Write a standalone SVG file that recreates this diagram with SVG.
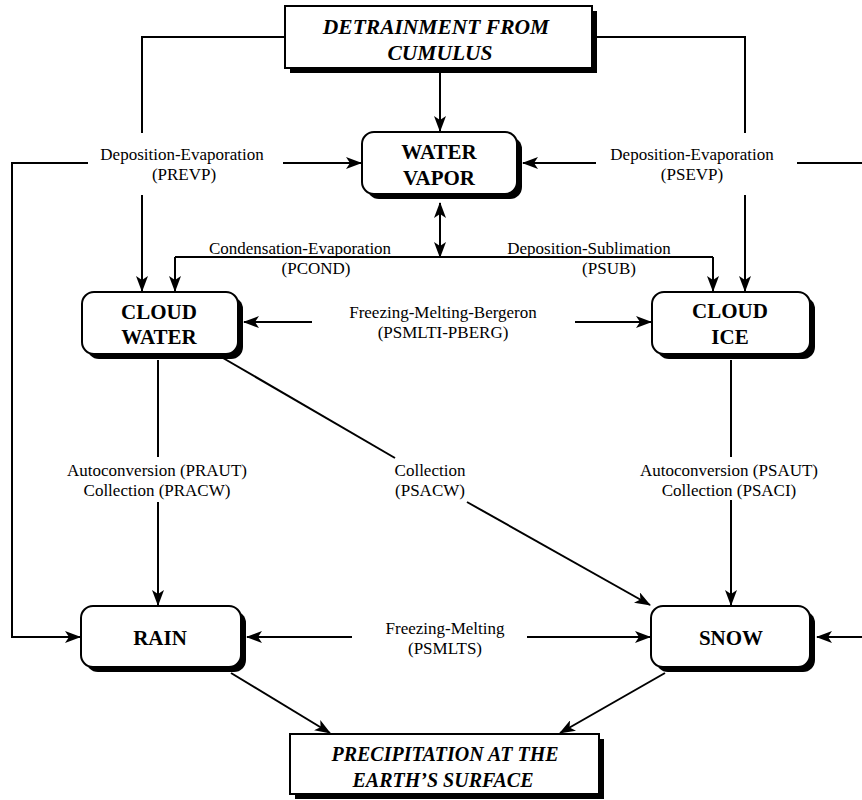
<svg xmlns="http://www.w3.org/2000/svg" width="862" height="800" viewBox="0 0 862 800">
<style>
.bg{fill:#fff}
.box{fill:#fff;stroke:#000;stroke-width:2}
.sh{fill:#000}
.c{fill:none;stroke:#000;stroke-width:2}
.nt{font-family:"Liberation Serif",serif;font-weight:bold;font-size:21px;text-anchor:middle;fill:#000}
.it{font-family:"Liberation Serif",serif;font-weight:bold;font-style:italic;font-size:20px;text-anchor:middle;fill:#000}
.it2{font-size:21.5px}
.lb{font-family:"Liberation Serif",serif;font-size:17px;text-anchor:middle;fill:#000}
</style>
<defs>
<marker id="ah" viewBox="0 0 16 12" refX="15" refY="6" markerWidth="16" markerHeight="12" markerUnits="userSpaceOnUse" orient="auto-start-reverse">
<path d="M0,0 L16,6 L0,12 L4,6 z" fill="#000"/>
</marker>
</defs>
<rect class="bg" x="0" y="0" width="862" height="800"/>

<g id="connectors">
<path class="c" d="M440,72 V131" marker-end="url(#ah)"/>
<path class="c" d="M285,37 H142 V133"/>
<path class="c" d="M142,195 V291" marker-end="url(#ah)"/>
<path class="c" d="M592,37 H745 V133"/>
<path class="c" d="M745,195 V291" marker-end="url(#ah)"/>
<path class="c" d="M283,163 H361" marker-end="url(#ah)"/>
<path class="c" d="M88,163 H12 V637 H80" marker-end="url(#ah)"/>
<path class="c" d="M596,163 H523" marker-end="url(#ah)"/>
<path class="c" d="M797,163 H862"/>
<path class="c" d="M862,637 H817" marker-end="url(#ah)"/>
<path class="c" d="M440,203 V257" marker-start="url(#ah)" marker-end="url(#ah)"/>
<path class="c" d="M175,257 H713"/>
<path class="c" d="M175,257 V291" marker-end="url(#ah)"/>
<path class="c" d="M713,257 V291" marker-end="url(#ah)"/>
<path class="c" d="M312,322 H244" marker-end="url(#ah)"/>
<path class="c" d="M575,322 H651" marker-end="url(#ah)"/>
<path class="c" d="M158,360 V457"/>
<path class="c" d="M158,502 V605" marker-end="url(#ah)"/>
<path class="c" d="M223,358 L395,458"/>
<path class="c" d="M467,502 L650,605" marker-end="url(#ah)"/>
<path class="c" d="M731,360 V457"/>
<path class="c" d="M731,500 V605" marker-end="url(#ah)"/>
<path class="c" d="M352,637 H247" marker-end="url(#ah)"/>
<path class="c" d="M527,637 H650" marker-end="url(#ah)"/>
<path class="c" d="M231,673 L330,733" marker-end="url(#ah)"/>
<path class="c" d="M665,673 L560,733" marker-end="url(#ah)"/>
</g>

<g id="labels">
<text class="lb" x="182" y="160">Deposition-Evaporation</text>
<text class="lb" x="184" y="180">(PREVP)</text>
<text class="lb" x="692" y="160">Deposition-Evaporation</text>
<text class="lb" x="692" y="180">(PSEVP)</text>
<text class="lb" x="300" y="254">Condensation-Evaporation</text>
<text class="lb" x="316" y="274">(PCOND)</text>
<text class="lb" x="589" y="254">Deposition-Sublimation</text>
<text class="lb" x="609" y="274">(PSUB)</text>
<text class="lb" x="443" y="318">Freezing-Melting-Bergeron</text>
<text class="lb" x="443" y="338">(PSMLTI-PBERG)</text>
<text class="lb" x="157" y="476">Autoconversion (PRAUT)</text>
<text class="lb" x="157" y="496">Collection (PRACW)</text>
<text class="lb" x="430" y="476">Collection</text>
<text class="lb" x="430" y="496">(PSACW)</text>
<text class="lb" x="729" y="476">Autoconversion (PSAUT)</text>
<text class="lb" x="729" y="496">Collection (PSACI)</text>
<text class="lb" x="445" y="634">Freezing-Melting</text>
<text class="lb" x="445" y="654">(PSMLTS)</text>
</g>

<g id="detrainment">
<rect class="sh" x="290" y="11" width="307" height="62"/>
<rect class="box" x="285" y="6" width="307" height="62"/>
<text class="it it2" x="436" y="34">DETRAINMENT FROM</text>
<text class="it it2" x="440" y="60">CUMULUS</text>
</g>

<g id="water-vapor">
<rect class="sh" x="367" y="137" width="155" height="62" rx="12"/>
<rect class="box" x="362" y="132" width="155" height="62" rx="12"/>
<text class="nt" x="439" y="159">WATER</text>
<text class="nt" x="439" y="185">VAPOR</text>
</g>

<g id="cloud-water">
<rect class="sh" x="87" y="297" width="156" height="62" rx="12"/>
<rect class="box" x="82" y="292" width="156" height="62" rx="12"/>
<text class="nt" x="159" y="319">CLOUD</text>
<text class="nt" x="159" y="344">WATER</text>
</g>

<g id="cloud-ice">
<rect class="sh" x="657" y="297" width="158" height="62" rx="12"/>
<rect class="box" x="652" y="292" width="158" height="62" rx="12"/>
<text class="nt" x="730" y="318">CLOUD</text>
<text class="nt" x="730" y="344">ICE</text>
</g>

<g id="rain">
<rect class="sh" x="86" y="611" width="160" height="61" rx="12"/>
<rect class="box" x="81" y="606" width="160" height="61" rx="12"/>
<text class="nt" x="160" y="645">RAIN</text>
</g>

<g id="snow">
<rect class="sh" x="656" y="611" width="159" height="61" rx="12"/>
<rect class="box" x="651" y="606" width="159" height="61" rx="12"/>
<text class="nt" x="731" y="645">SNOW</text>
</g>

<g id="precipitation">
<rect class="sh" x="295" y="739" width="309" height="60"/>
<rect class="box" x="290" y="734" width="309" height="60"/>
<text class="it" x="445" y="761">PRECIPITATION AT THE</text>
<text class="it" x="443" y="787">EARTH’S SURFACE</text>
</g>
</svg>
